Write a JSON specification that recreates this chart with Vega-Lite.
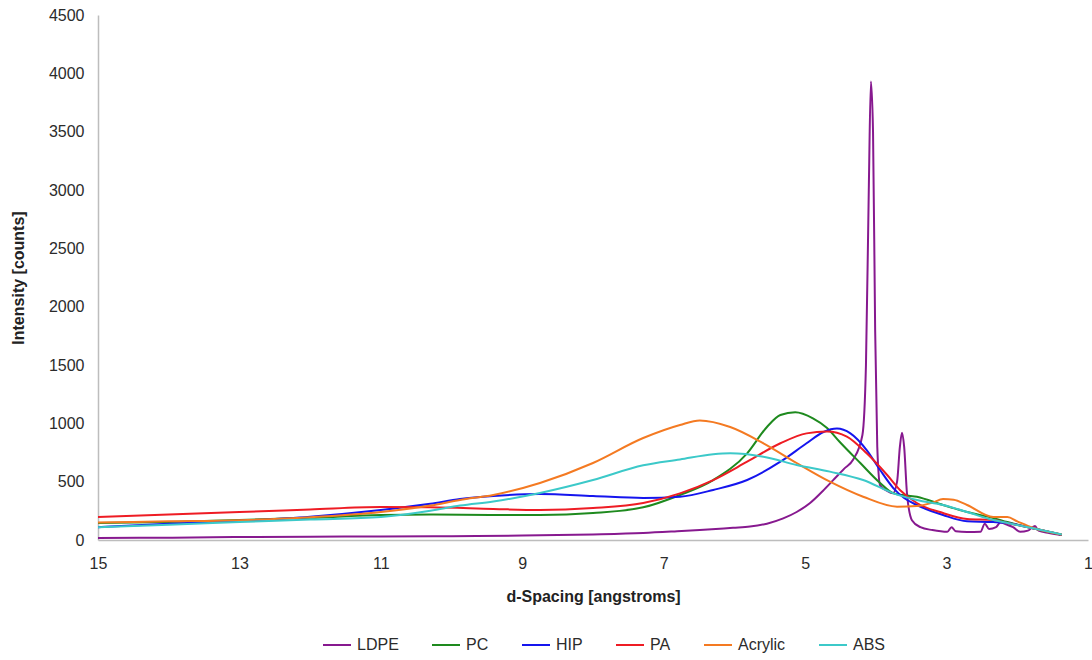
{
  "$schema": "https://vega.github.io/schema/vega-lite/v6.json",
  "autosize": {"type": "none"},
  "width": 990,
  "height": 525,
  "padding": {"left": 98, "top": 15, "right": 4, "bottom": 120},
  "background": "white",
  "config": {
    "font": "Liberation Sans",
    "view": {"stroke": null},
    "axis": {"grid": false, "ticks": false, "domainColor": "#BDBDBD", "domainWidth": 1.5, "labelColor": "#2B2B2B", "labelFontSize": 16, "titleFontSize": 16, "titleFontWeight": "bold", "titleColor": "#222222"}
  },
  "data": {
    "values": [
      {"s": "LDPE", "d": 15, "i": 18}, {"s": "LDPE", "d": 14, "i": 20}, {"s": "LDPE", "d": 13, "i": 25}, {"s": "LDPE", "d": 12, "i": 28},
      {"s": "LDPE", "d": 11, "i": 30}, {"s": "LDPE", "d": 10, "i": 33}, {"s": "LDPE", "d": 9, "i": 38}, {"s": "LDPE", "d": 8, "i": 48},
      {"s": "LDPE", "d": 7.29, "i": 60}, {"s": "LDPE", "d": 6.81, "i": 75}, {"s": "LDPE", "d": 6.49, "i": 86}, {"s": "LDPE", "d": 6.02, "i": 105},
      {"s": "LDPE", "d": 5.78, "i": 115}, {"s": "LDPE", "d": 5.54, "i": 140}, {"s": "LDPE", "d": 5.31, "i": 185}, {"s": "LDPE", "d": 5.12, "i": 240},
      {"s": "LDPE", "d": 4.93, "i": 317}, {"s": "LDPE", "d": 4.75, "i": 420}, {"s": "LDPE", "d": 4.6, "i": 515}, {"s": "LDPE", "d": 4.45, "i": 610},
      {"s": "LDPE", "d": 4.32, "i": 690}, {"s": "LDPE", "d": 4.19, "i": 900}, {"s": "LDPE", "d": 4.14, "i": 1500}, {"s": "LDPE", "d": 4.1, "i": 3000},
      {"s": "LDPE", "d": 4.07, "i": 3930}, {"s": "LDPE", "d": 4.04, "i": 3500}, {"s": "LDPE", "d": 4.01, "i": 1800}, {"s": "LDPE", "d": 3.98, "i": 800},
      {"s": "LDPE", "d": 3.94, "i": 470}, {"s": "LDPE", "d": 3.84, "i": 420}, {"s": "LDPE", "d": 3.76, "i": 400}, {"s": "LDPE", "d": 3.7, "i": 500},
      {"s": "LDPE", "d": 3.66, "i": 800}, {"s": "LDPE", "d": 3.63, "i": 920}, {"s": "LDPE", "d": 3.6, "i": 800}, {"s": "LDPE", "d": 3.56, "i": 400},
      {"s": "LDPE", "d": 3.49, "i": 170}, {"s": "LDPE", "d": 3.37, "i": 110}, {"s": "LDPE", "d": 3.2, "i": 85}, {"s": "LDPE", "d": 2.99, "i": 70},
      {"s": "LDPE", "d": 2.93, "i": 110}, {"s": "LDPE", "d": 2.87, "i": 75}, {"s": "LDPE", "d": 2.71, "i": 68}, {"s": "LDPE", "d": 2.52, "i": 70},
      {"s": "LDPE", "d": 2.46, "i": 140}, {"s": "LDPE", "d": 2.4, "i": 95}, {"s": "LDPE", "d": 2.3, "i": 110}, {"s": "LDPE", "d": 2.24, "i": 150},
      {"s": "LDPE", "d": 2.14, "i": 130}, {"s": "LDPE", "d": 2.06, "i": 110}, {"s": "LDPE", "d": 1.96, "i": 70}, {"s": "LDPE", "d": 1.85, "i": 80},
      {"s": "LDPE", "d": 1.75, "i": 120}, {"s": "LDPE", "d": 1.7, "i": 80}, {"s": "LDPE", "d": 1.55, "i": 60}, {"s": "LDPE", "d": 1.37, "i": 43},

      {"s": "PC", "d": 15, "i": 146}, {"s": "PC", "d": 14, "i": 155}, {"s": "PC", "d": 13, "i": 171}, {"s": "PC", "d": 12, "i": 190},
      {"s": "PC", "d": 11, "i": 214}, {"s": "PC", "d": 10.3, "i": 218}, {"s": "PC", "d": 9.41, "i": 214}, {"s": "PC", "d": 8.75, "i": 214},
      {"s": "PC", "d": 8, "i": 231}, {"s": "PC", "d": 7.29, "i": 280}, {"s": "PC", "d": 6.77, "i": 386}, {"s": "PC", "d": 6.3, "i": 514},
      {"s": "PC", "d": 5.82, "i": 743}, {"s": "PC", "d": 5.54, "i": 969}, {"s": "PC", "d": 5.35, "i": 1071}, {"s": "PC", "d": 5.14, "i": 1095},
      {"s": "PC", "d": 4.89, "i": 1043}, {"s": "PC", "d": 4.69, "i": 960}, {"s": "PC", "d": 4.51, "i": 840}, {"s": "PC", "d": 4.22, "i": 660},
      {"s": "PC", "d": 3.94, "i": 489}, {"s": "PC", "d": 3.75, "i": 400}, {"s": "PC", "d": 3.42, "i": 370}, {"s": "PC", "d": 3.05, "i": 300},
      {"s": "PC", "d": 2.71, "i": 240}, {"s": "PC", "d": 2.34, "i": 189}, {"s": "PC", "d": 2.14, "i": 154}, {"s": "PC", "d": 1.78, "i": 100},
      {"s": "PC", "d": 1.37, "i": 45},

      {"s": "HIP", "d": 15, "i": 110}, {"s": "HIP", "d": 14, "i": 140}, {"s": "HIP", "d": 13, "i": 165}, {"s": "HIP", "d": 12, "i": 200},
      {"s": "HIP", "d": 11, "i": 257}, {"s": "HIP", "d": 10.3, "i": 310}, {"s": "HIP", "d": 9.88, "i": 351}, {"s": "HIP", "d": 9.41, "i": 377},
      {"s": "HIP", "d": 8.75, "i": 394}, {"s": "HIP", "d": 8, "i": 377}, {"s": "HIP", "d": 7.29, "i": 360}, {"s": "HIP", "d": 6.77, "i": 371},
      {"s": "HIP", "d": 6.3, "i": 429}, {"s": "HIP", "d": 5.82, "i": 514}, {"s": "HIP", "d": 5.35, "i": 671}, {"s": "HIP", "d": 4.98, "i": 829},
      {"s": "HIP", "d": 4.74, "i": 926}, {"s": "HIP", "d": 4.55, "i": 955}, {"s": "HIP", "d": 4.36, "i": 914}, {"s": "HIP", "d": 4.13, "i": 771},
      {"s": "HIP", "d": 3.94, "i": 600}, {"s": "HIP", "d": 3.75, "i": 443}, {"s": "HIP", "d": 3.6, "i": 360}, {"s": "HIP", "d": 3.42, "i": 300},
      {"s": "HIP", "d": 3.05, "i": 214}, {"s": "HIP", "d": 2.71, "i": 160}, {"s": "HIP", "d": 2.34, "i": 154}, {"s": "HIP", "d": 2.14, "i": 146},
      {"s": "HIP", "d": 1.78, "i": 100}, {"s": "HIP", "d": 1.37, "i": 45},

      {"s": "PA", "d": 15, "i": 197}, {"s": "PA", "d": 14, "i": 218}, {"s": "PA", "d": 13, "i": 240}, {"s": "PA", "d": 12, "i": 262},
      {"s": "PA", "d": 11, "i": 283}, {"s": "PA", "d": 10.3, "i": 280}, {"s": "PA", "d": 9.41, "i": 266}, {"s": "PA", "d": 8.75, "i": 257},
      {"s": "PA", "d": 8, "i": 274}, {"s": "PA", "d": 7.29, "i": 317}, {"s": "PA", "d": 6.77, "i": 400}, {"s": "PA", "d": 6.3, "i": 514},
      {"s": "PA", "d": 5.82, "i": 671}, {"s": "PA", "d": 5.35, "i": 829}, {"s": "PA", "d": 4.98, "i": 914}, {"s": "PA", "d": 4.69, "i": 930},
      {"s": "PA", "d": 4.41, "i": 886}, {"s": "PA", "d": 4.13, "i": 743}, {"s": "PA", "d": 3.84, "i": 557}, {"s": "PA", "d": 3.66, "i": 429},
      {"s": "PA", "d": 3.42, "i": 317}, {"s": "PA", "d": 3.05, "i": 231}, {"s": "PA", "d": 2.71, "i": 180}, {"s": "PA", "d": 2.34, "i": 171},
      {"s": "PA", "d": 2.14, "i": 146}, {"s": "PA", "d": 1.78, "i": 100}, {"s": "PA", "d": 1.37, "i": 45},

      {"s": "Acrylic", "d": 15, "i": 150}, {"s": "Acrylic", "d": 14, "i": 160}, {"s": "Acrylic", "d": 13, "i": 170}, {"s": "Acrylic", "d": 12, "i": 195},
      {"s": "Acrylic", "d": 11, "i": 240}, {"s": "Acrylic", "d": 10.3, "i": 295}, {"s": "Acrylic", "d": 9.88, "i": 343}, {"s": "Acrylic", "d": 9.41, "i": 386},
      {"s": "Acrylic", "d": 8.75, "i": 489}, {"s": "Acrylic", "d": 8, "i": 660}, {"s": "Acrylic", "d": 7.29, "i": 874}, {"s": "Acrylic", "d": 6.77, "i": 986},
      {"s": "Acrylic", "d": 6.49, "i": 1025}, {"s": "Acrylic", "d": 6.06, "i": 969}, {"s": "Acrylic", "d": 5.59, "i": 829}, {"s": "Acrylic", "d": 5.12, "i": 660},
      {"s": "Acrylic", "d": 4.65, "i": 500}, {"s": "Acrylic", "d": 4.18, "i": 371}, {"s": "Acrylic", "d": 3.7, "i": 286}, {"s": "Acrylic", "d": 3.42, "i": 291},
      {"s": "Acrylic", "d": 3.2, "i": 320}, {"s": "Acrylic", "d": 3.05, "i": 351}, {"s": "Acrylic", "d": 2.9, "i": 345}, {"s": "Acrylic", "d": 2.71, "i": 300},
      {"s": "Acrylic", "d": 2.34, "i": 197}, {"s": "Acrylic", "d": 2.14, "i": 197}, {"s": "Acrylic", "d": 2, "i": 160}, {"s": "Acrylic", "d": 1.78, "i": 105},
      {"s": "Acrylic", "d": 1.37, "i": 48},

      {"s": "ABS", "d": 15, "i": 110}, {"s": "ABS", "d": 14, "i": 130}, {"s": "ABS", "d": 13, "i": 154}, {"s": "ABS", "d": 12, "i": 175},
      {"s": "ABS", "d": 11, "i": 197}, {"s": "ABS", "d": 10.3, "i": 250}, {"s": "ABS", "d": 9.88, "i": 295}, {"s": "ABS", "d": 9.41, "i": 330},
      {"s": "ABS", "d": 8.75, "i": 403}, {"s": "ABS", "d": 8, "i": 514}, {"s": "ABS", "d": 7.29, "i": 640}, {"s": "ABS", "d": 6.77, "i": 690},
      {"s": "ABS", "d": 6.3, "i": 735}, {"s": "ABS", "d": 6.06, "i": 743}, {"s": "ABS", "d": 5.59, "i": 714}, {"s": "ABS", "d": 5.12, "i": 643},
      {"s": "ABS", "d": 4.65, "i": 586}, {"s": "ABS", "d": 4.18, "i": 514}, {"s": "ABS", "d": 3.75, "i": 400}, {"s": "ABS", "d": 3.42, "i": 343},
      {"s": "ABS", "d": 3.05, "i": 300}, {"s": "ABS", "d": 2.71, "i": 240}, {"s": "ABS", "d": 2.34, "i": 171}, {"s": "ABS", "d": 2.14, "i": 146},
      {"s": "ABS", "d": 1.78, "i": 100}, {"s": "ABS", "d": 1.37, "i": 48}
    ]
  },
  "mark": {"type": "line", "interpolate": "monotone", "strokeWidth": 2, "clip": true},
  "encoding": {
    "x": {
      "field": "d", "type": "quantitative",
      "scale": {"domain": [1, 15], "reverse": true, "nice": false},
      "axis": {"values": [15, 13, 11, 9, 7, 5, 3, 1], "title": "d-Spacing [angstroms]", "labelPadding": 15, "titleY": 56, "titleBaseline": "middle", "labelFlush": false}
    },
    "y": {
      "field": "i", "type": "quantitative",
      "scale": {"domain": [0, 4500], "nice": false},
      "axis": {"values": [0, 500, 1000, 1500, 2000, 2500, 3000, 3500, 4000, 4500], "format": "d", "title": "Intensity [counts]", "labelPadding": 14, "titleX": -80, "titleBaseline": "middle"}
    },
    "color": {
      "field": "s", "type": "nominal",
      "scale": {
        "domain": ["LDPE", "PC", "HIP", "PA", "Acrylic", "ABS"],
        "range": ["#87198F", "#1E8A1E", "#1515EE", "#EE1C24", "#F47A22", "#3CC9C9"]
      },
      "legend": {
        "title": null, "orient": "none", "direction": "horizontal",
        "legendX": 224, "legendY": 615,
        "symbolType": "stroke", "symbolSize": 784, "symbolStrokeWidth": 2,
        "labelFontSize": 16, "labelColor": "#2B2B2B", "labelOffset": 5,
        "columnPadding": 29
      }
    },
    "order": {"field": "d", "type": "quantitative"}
  }
}
